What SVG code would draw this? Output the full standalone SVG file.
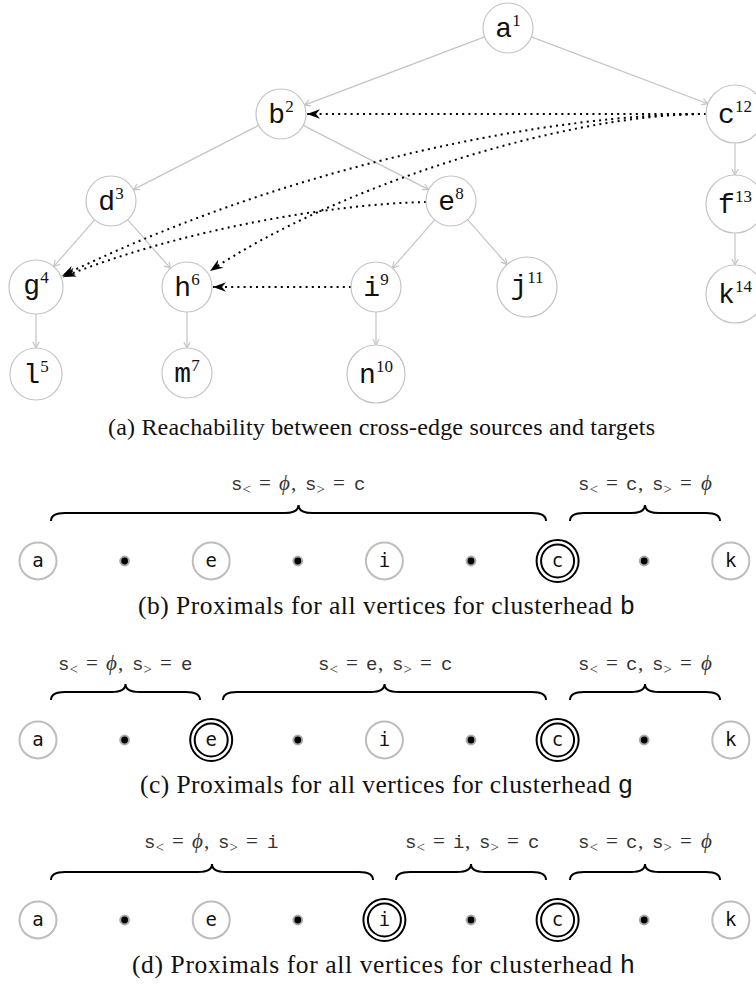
<svg xmlns="http://www.w3.org/2000/svg" width="756" height="985" viewBox="0 0 756 985">
<defs>
<style>
.tn{fill:#fff;stroke:#c4c4c4;stroke-width:1.2}
.te{fill:none;stroke:#c4c4c4;stroke-width:1.2;marker-end:url(#ga)}
.dt{fill:none;stroke:#000;stroke-width:2;stroke-dasharray:2 4.2;marker-end:url(#ba)}
.tl{font-family:"Liberation Mono",monospace;font-size:28px;fill:#111;text-anchor:middle}
.sup{font-family:"Liberation Serif",serif;font-size:17px}
.rn{fill:#fff;stroke:#bdbdbd;stroke-width:2}
.rd{fill:#fff;stroke:#000;stroke-width:2}
.dot{fill:#000;stroke:#aaa;stroke-width:2}
.rl{font-family:"DejaVu Sans Mono",monospace;font-size:19px;fill:#111;text-anchor:middle}
.br{fill:none;stroke:#000;stroke-width:2}
.bl{font-family:"Liberation Serif","DejaVu Serif",serif;font-size:21px;fill:#333}
.m{font-family:"Liberation Mono",monospace;font-size:19px}
.sb{font-size:15px}
.ph{font-style:italic}
.cap{font-family:"Liberation Serif",serif;font-size:24px;fill:#111}
.cap2{font-family:"Liberation Serif",serif;font-size:25.5px;fill:#111}
.cm{font-family:"Liberation Mono",monospace}
</style>
<marker id="ga" viewBox="-8 -5 9 10" refX="0" refY="0" markerWidth="9" markerHeight="10" markerUnits="userSpaceOnUse" orient="auto"><path d="M-6,-3.2 L0,0 L-6,3.2" fill="none" stroke="#c4c4c4" stroke-width="1.2"/></marker>
<marker id="ba" viewBox="-14 -6 15 12" refX="0" refY="0" markerWidth="15" markerHeight="12" markerUnits="userSpaceOnUse" orient="auto"><path d="M0,0 L-13,-4.8 L-9,0 L-13,4.8 Z" fill="#000"/></marker>
</defs>
<rect width="756" height="985" fill="#fff"/>

<g id="connectors">
<line class="te" x1="484.6" y1="36.9" x2="304.4" y2="105.1"/>
<line class="te" x1="531.4" y1="36.9" x2="707.9" y2="103.7"/>
<line class="te" x1="258.7" y1="125.4" x2="133.3" y2="189.6"/>
<line class="te" x1="303.3" y1="125.4" x2="428.7" y2="189.6"/>
<line class="te" x1="94.6" y1="219.8" x2="53.7" y2="266.6"/>
<line class="te" x1="127.6" y1="219.7" x2="170.5" y2="268.3"/>
<line class="te" x1="434.6" y1="219.8" x2="392.4" y2="268.2"/>
<line class="te" x1="467.6" y1="219.7" x2="507.1" y2="264.5"/>
<line class="te" x1="735" y1="143" x2="735" y2="175"/>
<line class="te" x1="735" y1="233" x2="735" y2="265"/>
<line class="te" x1="36" y1="314" x2="36" y2="348"/>
<line class="te" x1="187" y1="312" x2="187" y2="348"/>
<line class="te" x1="376" y1="312" x2="376" y2="345"/>
<path class="dt" d="M706,114 L307,114"/>
<path class="dt" d="M351,287 L213,287"/>
<path class="dt" d="M706,114 C560,114 300,160 62,276"/>
<path class="dt" d="M706,114 C560,114 330,190 210,271"/>
<path class="dt" d="M426,202 C330,204 180,230 63,277"/>
</g>

<g id="node-a"><circle class="tn" cx="508" cy="28" r="25"/><text class="tl" x="508" y="37">a<tspan class="sup" dy="-11">1</tspan></text></g>
<g id="node-b"><circle class="tn" cx="281" cy="114" r="25"/><text class="tl" x="281" y="123">b<tspan class="sup" dy="-11">2</tspan></text></g>
<g id="node-c"><circle class="tn" cx="735" cy="114" r="29"/><text class="tl" x="735" y="123">c<tspan class="sup" dy="-11">12</tspan></text></g>
<g id="node-d"><circle class="tn" cx="111" cy="201" r="25"/><text class="tl" x="111" y="210">d<tspan class="sup" dy="-11">3</tspan></text></g>
<g id="node-e"><circle class="tn" cx="451" cy="201" r="25"/><text class="tl" x="451" y="210">e<tspan class="sup" dy="-11">8</tspan></text></g>
<g id="node-f"><circle class="tn" cx="735" cy="204" r="29"/><text class="tl" x="735" y="213">f<tspan class="sup" dy="-11">13</tspan></text></g>
<g id="node-g"><circle class="tn" cx="36" cy="287" r="27"/><text class="tl" x="36" y="294">g<tspan class="sup" dy="-11">4</tspan></text></g>
<g id="node-h"><circle class="tn" cx="187" cy="287" r="25"/><text class="tl" x="187" y="296">h<tspan class="sup" dy="-11">6</tspan></text></g>
<g id="node-i"><circle class="tn" cx="376" cy="287" r="25"/><text class="tl" x="376" y="296">i<tspan class="sup" dy="-11">9</tspan></text></g>
<g id="node-j"><circle class="tn" cx="527" cy="287" r="30"/><text class="tl" x="527" y="294">j<tspan class="sup" dy="-11">11</tspan></text></g>
<g id="node-k"><circle class="tn" cx="735" cy="294" r="29"/><text class="tl" x="735" y="303">k<tspan class="sup" dy="-11">14</tspan></text></g>
<g id="node-l"><circle class="tn" cx="36" cy="374" r="26"/><text class="tl" x="36" y="383">l<tspan class="sup" dy="-11">5</tspan></text></g>
<g id="node-m"><circle class="tn" cx="187" cy="373" r="25"/><text class="tl" x="187" y="382">m<tspan class="sup" dy="-11">7</tspan></text></g>
<g id="node-n"><circle class="tn" cx="376" cy="374" r="29"/><text class="tl" x="376" y="383">n<tspan class="sup" dy="-11">10</tspan></text></g>

<text class="cap" x="381.5" y="435" text-anchor="middle" textLength="547">(a) Reachability between cross-edge sources and targets</text>

<!-- (b) -->
<g id="row-b">
<g id="b-a"><circle class="rn" cx="38" cy="561" r="18.5"/><text class="rl" x="38" y="567">a</text></g>
<g id="b-d1"><circle class="dot" cx="124.6" cy="561" r="4.4"/></g>
<g id="b-e"><circle class="rn" cx="211.2" cy="561" r="18.5"/><text class="rl" x="211.2" y="567">e</text></g>
<g id="b-d2"><circle class="dot" cx="297.8" cy="561" r="4.4"/></g>
<g id="b-i"><circle class="rn" cx="384.4" cy="561" r="18.5"/><text class="rl" x="384.4" y="567">i</text></g>
<g id="b-d3"><circle class="dot" cx="471" cy="561" r="4.4"/></g>
<g id="b-c"><circle class="rd" cx="557.6" cy="561" r="21"/><circle class="rd" cx="557.6" cy="561" r="16.5"/><text class="rl" x="557.6" y="567">c</text></g>
<g id="b-d4"><circle class="dot" cx="644.2" cy="561" r="4.4"/></g>
<g id="b-k"><circle class="rn" cx="730.8" cy="561" r="18.5"/><text class="rl" x="730.8" y="567">k</text></g>
<path class="br" d="M51,521 Q51,513 65,513 L284.5,513 Q298.5,513 298.5,505 Q298.5,513 312.5,513 L532,513 Q546,513 546,521"/>
<path class="br" d="M570,521 Q570,513 584,513 L631,513 Q645,513 645,505 Q645,513 659,513 L706,513 Q720,513 720,521"/>
<text class="bl" y="490"><tspan class="m" x="231">s</tspan><tspan class="sb" x="242.5" dy="4">&lt;</tspan><tspan x="259" dy="-4">=</tspan><tspan class="ph" x="279">ϕ</tspan><tspan x="291">,</tspan><tspan class="m" x="305">s</tspan><tspan class="sb" x="316.5" dy="4">&gt;</tspan><tspan x="333" dy="-4">=</tspan><tspan class="m" x="354">c</tspan></text>
<text class="bl" y="490"><tspan class="m" x="578">s</tspan><tspan class="sb" x="589.5" dy="4">&lt;</tspan><tspan x="606" dy="-4">=</tspan><tspan class="m" x="626">c</tspan><tspan x="638">,</tspan><tspan class="m" x="652">s</tspan><tspan class="sb" x="663.5" dy="4">&gt;</tspan><tspan x="680" dy="-4">=</tspan><tspan class="ph" x="701">ϕ</tspan></text>
<text class="cap2" x="138" y="614" textLength="497">(b) Proximals for all vertices for clusterhead <tspan class="cm">b</tspan></text>
</g>

<!-- (c) -->
<g id="row-c">
<g id="c-a"><circle class="rn" cx="38" cy="740" r="18.5"/><text class="rl" x="38" y="746">a</text></g>
<g id="c-d1"><circle class="dot" cx="124.6" cy="740" r="4.4"/></g>
<g id="c-e"><circle class="rd" cx="211.2" cy="740" r="21"/><circle class="rd" cx="211.2" cy="740" r="16.5"/><text class="rl" x="211.2" y="746">e</text></g>
<g id="c-d2"><circle class="dot" cx="297.8" cy="740" r="4.4"/></g>
<g id="c-i"><circle class="rn" cx="384.4" cy="740" r="18.5"/><text class="rl" x="384.4" y="746">i</text></g>
<g id="c-d3"><circle class="dot" cx="471" cy="740" r="4.4"/></g>
<g id="c-c"><circle class="rd" cx="557.6" cy="740" r="21"/><circle class="rd" cx="557.6" cy="740" r="16.5"/><text class="rl" x="557.6" y="746">c</text></g>
<g id="c-d4"><circle class="dot" cx="644.2" cy="740" r="4.4"/></g>
<g id="c-k"><circle class="rn" cx="730.8" cy="740" r="18.5"/><text class="rl" x="730.8" y="746">k</text></g>
<path class="br" d="M51,700 Q51,692 65,692 L111.5,692 Q125.5,692 125.5,684 Q125.5,692 139.5,692 L186,692 Q200,692 200,700"/>
<path class="br" d="M223,700 Q223,692 237,692 L370.5,692 Q384.5,692 384.5,684 Q384.5,692 398.5,692 L532,692 Q546,692 546,700"/>
<path class="br" d="M570,700 Q570,692 584,692 L631,692 Q645,692 645,684 Q645,692 659,692 L706,692 Q720,692 720,700"/>
<text class="bl" y="670"><tspan class="m" x="58">s</tspan><tspan class="sb" x="69.5" dy="4">&lt;</tspan><tspan x="86" dy="-4">=</tspan><tspan class="ph" x="106">ϕ</tspan><tspan x="118">,</tspan><tspan class="m" x="132">s</tspan><tspan class="sb" x="143.5" dy="4">&gt;</tspan><tspan x="160" dy="-4">=</tspan><tspan class="m" x="181">e</tspan></text>
<text class="bl" y="670"><tspan class="m" x="318">s</tspan><tspan class="sb" x="329.5" dy="4">&lt;</tspan><tspan x="346" dy="-4">=</tspan><tspan class="m" x="366">e</tspan><tspan x="378">,</tspan><tspan class="m" x="392">s</tspan><tspan class="sb" x="403.5" dy="4">&gt;</tspan><tspan x="420" dy="-4">=</tspan><tspan class="m" x="441">c</tspan></text>
<text class="bl" y="670"><tspan class="m" x="578">s</tspan><tspan class="sb" x="589.5" dy="4">&lt;</tspan><tspan x="606" dy="-4">=</tspan><tspan class="m" x="626">c</tspan><tspan x="638">,</tspan><tspan class="m" x="652">s</tspan><tspan class="sb" x="663.5" dy="4">&gt;</tspan><tspan x="680" dy="-4">=</tspan><tspan class="ph" x="701">ϕ</tspan></text>
<text class="cap2" x="140" y="793" textLength="493">(c) Proximals for all vertices for clusterhead <tspan class="cm">g</tspan></text>
</g>

<!-- (d) -->
<g id="row-d">
<g id="d-a"><circle class="rn" cx="38" cy="920" r="18.5"/><text class="rl" x="38" y="926">a</text></g>
<g id="d-d1"><circle class="dot" cx="124.6" cy="920" r="4.4"/></g>
<g id="d-e"><circle class="rn" cx="211.2" cy="920" r="18.5"/><text class="rl" x="211.2" y="926">e</text></g>
<g id="d-d2"><circle class="dot" cx="297.8" cy="920" r="4.4"/></g>
<g id="d-i"><circle class="rd" cx="384.4" cy="920" r="21"/><circle class="rd" cx="384.4" cy="920" r="16.5"/><text class="rl" x="384.4" y="926">i</text></g>
<g id="d-d3"><circle class="dot" cx="471" cy="920" r="4.4"/></g>
<g id="d-c"><circle class="rd" cx="557.6" cy="920" r="21"/><circle class="rd" cx="557.6" cy="920" r="16.5"/><text class="rl" x="557.6" y="926">c</text></g>
<g id="d-d4"><circle class="dot" cx="644.2" cy="920" r="4.4"/></g>
<g id="d-k"><circle class="rn" cx="730.8" cy="920" r="18.5"/><text class="rl" x="730.8" y="926">k</text></g>
<path class="br" d="M51,880 Q51,872 65,872 L198,872 Q212,872 212,864 Q212,872 226,872 L359,872 Q373,872 373,880"/>
<path class="br" d="M396,880 Q396,872 410,872 L457,872 Q471,872 471,864 Q471,872 485,872 L532,872 Q546,872 546,880"/>
<path class="br" d="M570,880 Q570,872 584,872 L631,872 Q645,872 645,864 Q645,872 659,872 L706,872 Q720,872 720,880"/>
<text class="bl" y="848"><tspan class="m" x="144">s</tspan><tspan class="sb" x="155.5" dy="4">&lt;</tspan><tspan x="172" dy="-4">=</tspan><tspan class="ph" x="192">ϕ</tspan><tspan x="204">,</tspan><tspan class="m" x="218">s</tspan><tspan class="sb" x="229.5" dy="4">&gt;</tspan><tspan x="246" dy="-4">=</tspan><tspan class="m" x="267">i</tspan></text>
<text class="bl" y="848"><tspan class="m" x="405">s</tspan><tspan class="sb" x="416.5" dy="4">&lt;</tspan><tspan x="433" dy="-4">=</tspan><tspan class="m" x="453">i</tspan><tspan x="465">,</tspan><tspan class="m" x="479">s</tspan><tspan class="sb" x="490.5" dy="4">&gt;</tspan><tspan x="507" dy="-4">=</tspan><tspan class="m" x="528">c</tspan></text>
<text class="bl" y="848"><tspan class="m" x="578">s</tspan><tspan class="sb" x="589.5" dy="4">&lt;</tspan><tspan x="606" dy="-4">=</tspan><tspan class="m" x="626">c</tspan><tspan x="638">,</tspan><tspan class="m" x="652">s</tspan><tspan class="sb" x="663.5" dy="4">&gt;</tspan><tspan x="680" dy="-4">=</tspan><tspan class="ph" x="701">ϕ</tspan></text>
<text class="cap2" x="132" y="973" textLength="503">(d) Proximals for all vertices for clusterhead <tspan class="cm">h</tspan></text>
</g>
</svg>
